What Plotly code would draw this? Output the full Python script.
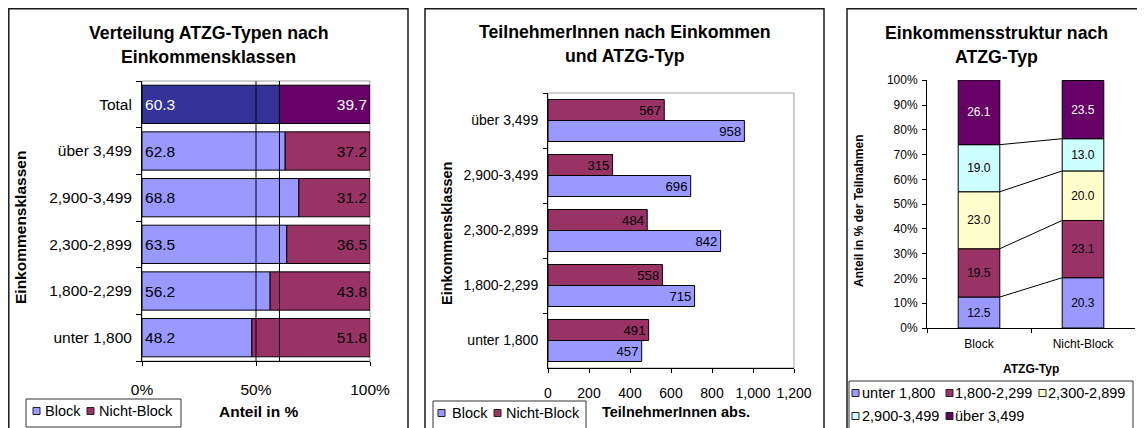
import plotly.graph_objects as go
import numpy as np

# ---------------- data ----------------
income_classes = ["unter 1,800", "1,800-2,299", "2,300-2,899", "2,900-3,499", "über 3,499"]
total_label = "Total"
atzg_types = ["Block", "Nicht-Block"]

# panel 1: share (%) per income class
share_block = [48.2, 56.2, 63.5, 68.8, 62.8]
share_nonblock = [51.8, 43.8, 36.5, 31.2, 37.2]
total_block = 60.3
total_nonblock = 39.7
reference_line = 50  # 50% line

# panel 2: absolute counts
count_block = [457, 715, 842, 696, 958]
count_nonblock = [491, 558, 484, 315, 567]

# panel 3: income structure per ATZG type (%)
struct_block = [12.5, 19.5, 23.0, 19.0, 26.1]
struct_nonblock = [20.3, 23.1, 20.0, 13.0, 23.5]

# tick values
ticks_p1 = [0, 50, 100]
ticks_p2 = [0, 200, 400, 600, 800, 1000, 1200]
ticks_p3 = [0, 10, 20, 30, 40, 50, 60, 70, 80, 90, 100]

# ---------------- styles ----------------
W, H = 1145, 428
PAGE_OFFSET = 8  # the page body margin shifts the figure by this many px
FONT = "Liberation Sans, Arial, sans-serif"
C_BLOCK = "#9999FF"
C_NB = "#993366"
C_TOT_BLOCK = "#333399"
C_TOT_NB = "#660066"
STRUCT_COLORS = ["#9999FF", "#993366", "#FFFFCC", "#CCFFFF", "#660066"]
STRUCT_TEXT = ["#000000", "#000000", "#000000", "#000000", "#FFFFFF"]
GRAY = "#A0A0A0"
TITLE_SIZE = 17.7


def px(x):
    return (x - PAGE_OFFSET) / W


def py(y):
    return 1 - (y - PAGE_OFFSET) / H


fig = go.Figure()

# ---------------- panel 1 ----------------
cat1 = income_classes + [total_label]
bw1 = 0.82
fig.add_trace(go.Bar(
    y=income_classes, x=share_block, base=[0] * len(share_block), orientation="h",
    width=bw1, marker=dict(color=C_BLOCK, line=dict(color="black", width=1)),
    text=[f"{v:.1f}" for v in share_block], textposition="inside", insidetextanchor="start",
    textfont=dict(family=FONT, size=15.5, color="black"), textangle=0,
    xaxis="x", yaxis="y", showlegend=False, name="Block"))
fig.add_trace(go.Bar(
    y=[total_label], x=[total_block], base=[0], orientation="h",
    width=bw1, marker=dict(color=C_TOT_BLOCK, line=dict(color="black", width=1)),
    text=[f"{total_block:.1f}"], textposition="inside", insidetextanchor="start",
    textfont=dict(family=FONT, size=15.5, color="white"), textangle=0,
    xaxis="x", yaxis="y", showlegend=False, name="Block"))
fig.add_trace(go.Bar(
    y=income_classes, x=share_nonblock, base=share_block, orientation="h",
    width=bw1, marker=dict(color=C_NB, line=dict(color="black", width=1)),
    text=[f"{v:.1f}" for v in share_nonblock], textposition="inside", insidetextanchor="end",
    textfont=dict(family=FONT, size=15.5, color="black"), textangle=0,
    xaxis="x", yaxis="y", showlegend=False, name="Nicht-Block"))
fig.add_trace(go.Bar(
    y=[total_label], x=[total_nonblock], base=[total_block], orientation="h",
    width=bw1, marker=dict(color=C_TOT_NB, line=dict(color="black", width=1)),
    text=[f"{total_nonblock:.1f}"], textposition="inside", insidetextanchor="end",
    textfont=dict(family=FONT, size=15.5, color="white"), textangle=0,
    xaxis="x", yaxis="y", showlegend=False, name="Nicht-Block"))

# ---------------- panel 2 ----------------
bw2 = 0.382
fig.add_trace(go.Bar(
    y=income_classes, x=count_block, orientation="h", width=bw2, offset=-bw2,
    marker=dict(color=C_BLOCK, line=dict(color="black", width=1)),
    text=[str(v) for v in count_block], textposition="inside", insidetextanchor="end",
    textfont=dict(family=FONT, size=14, color="black"), textangle=0,
    xaxis="x2", yaxis="y2", showlegend=False, name="Block"))
fig.add_trace(go.Bar(
    y=income_classes, x=count_nonblock, orientation="h", width=bw2, offset=0,
    marker=dict(color=C_NB, line=dict(color="black", width=1)),
    text=[str(v) for v in count_nonblock], textposition="inside", insidetextanchor="end",
    textfont=dict(family=FONT, size=14, color="black"), textangle=0,
    xaxis="x2", yaxis="y2", showlegend=False, name="Nicht-Block"))

# ---------------- panel 3 ----------------
bw3 = 0.4
cum_block = np.cumsum([0] + struct_block)
cum_nb = np.cumsum([0] + struct_nonblock)
ymax3 = max(100.0, float(cum_block[-1]), float(cum_nb[-1]))
for i, cls in enumerate(income_classes):
    vals = [struct_block[i], struct_nonblock[i]]
    fig.add_trace(go.Bar(
        x=atzg_types, y=vals, base=[cum_block[i], cum_nb[i]], width=bw3,
        marker=dict(color=STRUCT_COLORS[i], line=dict(color="black", width=1)),
        text=[f"{v:.1f}" for v in vals], textposition="inside", insidetextanchor="middle",
        textfont=dict(family=FONT, size=12, color=STRUCT_TEXT[i]), textangle=0,
        xaxis="x3", yaxis="y3", showlegend=False, name=cls, cliponaxis=False))

shapes = []
annotations = []

# panel frames
for (x0, y0, x1) in [(8.8, 8.8, 408), (425, 8.8, 824), (847, 8.8, 1160)]:
    shapes.append(dict(type="rect", xref="paper", yref="paper",
                       x0=px(x0), x1=px(x1), y0=py(440), y1=py(y0),
                       line=dict(color="#1a1a1a", width=1.5), layer="below"))

# plot-area gray frames (panels 1 and 2)
for xr, yr in [("x", "y"), ("x2", "y2")]:
    shapes.append(dict(type="rect", xref=f"{xr} domain", yref=f"{yr} domain",
                       x0=0, x1=1, y0=0, y1=1, line=dict(color=GRAY, width=1), layer="below"))

# vertical reference lines in panel 1 (50% and total share)
for v in [reference_line, total_block]:
    shapes.append(dict(type="line", xref="x", yref="y domain", x0=v, x1=v, y0=0, y1=1,
                       line=dict(color="black", width=1), layer="above"))

# series lines in panel 3
for i in range(1, len(income_classes)):
    shapes.append(dict(type="line", xref="x3", yref="y3",
                       x0=0 + bw3 / 2, x1=1 - bw3 / 2, y0=cum_block[i], y1=cum_nb[i],
                       line=dict(color="black", width=1), layer="above"))


def text(x, y, s, size, bold=False, angle=0, xanchor="center", color="black"):
    annotations.append(dict(
        xref="paper", yref="paper", x=px(x), y=py(y), text=f"<b>{s}</b>" if bold else s,
        showarrow=False, textangle=angle, xanchor=xanchor, yanchor="middle",
        font=dict(family=FONT, size=size, color=color)))


# titles
text(208, 33, "Verteilung ATZG-Typen nach", TITLE_SIZE, True)
text(208, 57, "Einkommensklassen", TITLE_SIZE, True)
text(625, 32, "TeilnehmerInnen nach Einkommen", TITLE_SIZE, True)
text(625, 56, "und ATZG-Typ", TITLE_SIZE, True)
text(996, 33, "Einkommensstruktur nach", TITLE_SIZE, True)
text(996, 57, "ATZG-Typ", TITLE_SIZE, True)

# axis titles
text(21, 228, "Einkommensklassen", 15.5, True, angle=-90)
text(258, 411, "Anteil in %", 15.5, True)
text(447, 234, "Einkommensklassen", 14.5, True, angle=-90)
text(676, 412, "TeilnehmerInnen abs.", 14.5, True)
text(859, 211, "Anteil in % der Teilnahmen", 12, True, angle=-90)
text(1031, 369, "ATZG-Typ", 12, True)


# manual legends
def legend_box(x0, y0, x1, y1):
    shapes.append(dict(type="rect", xref="paper", yref="paper",
                       x0=px(x0), x1=px(x1), y0=py(y1), y1=py(y0),
                       line=dict(color="#333333", width=1), fillcolor="white", layer="above"))


def legend_item(sx, ty, tx, name, color, size):
    shapes.append(dict(type="rect", xref="paper", yref="paper",
                       x0=px(sx), x1=px(sx + 7), y0=py(ty + 3.5), y1=py(ty - 3.5),
                       line=dict(color="#222222", width=1), fillcolor=color, layer="above"))
    text(tx, ty, name, size, xanchor="left")


legend_box(26, 399, 181, 427)
legend_item(33, 411, 43, "Block", C_BLOCK, 14.5)
legend_item(87, 411, 97, "Nicht-Block", C_NB, 14.5)

legend_box(433, 401, 586, 432)
legend_item(438, 413, 450, "Block", C_BLOCK, 14.5)
legend_item(494, 413, 504, "Nicht-Block", C_NB, 14.5)

legend_box(849, 381, 1133, 432)
leg3_pos = [(852, 393, 860), (946, 393, 953), (1039, 393, 1046), (852, 416, 860), (946, 416, 953)]
for (sx, ty, tx), name, col in zip(leg3_pos, income_classes, STRUCT_COLORS):
    legend_item(sx, ty, tx, name, col, 14.5)

axis_common = dict(showline=True, linecolor="black", linewidth=1, ticks="outside",
                   tickcolor="black", tickwidth=1, showgrid=False, zeroline=False,
                   automargin=False)

fig.update_layout(
    template="none",
    width=W, height=H, autosize=False,
    margin=dict(l=0, r=0, t=0, b=0, pad=0, autoexpand=False),
    paper_bgcolor="white", plot_bgcolor="white",
    barmode="overlay", showlegend=False,
    font=dict(family=FONT, color="black"),
    xaxis=dict(domain=[px(142), px(370)], anchor="y", range=[0, 100],
               tickmode="array", tickvals=ticks_p1, ticktext=[f"{v}%" for v in ticks_p1],
               ticklen=4, ticklabelstandoff=10,
               tickfont=dict(size=15.5), **axis_common),
    yaxis=dict(domain=[py(361), py(81)], anchor="x", type="category",
               categoryorder="array", categoryarray=cat1, range=[-0.5, len(cat1) - 0.5],
               tickson="boundaries", ticklen=5, ticklabelstandoff=6,
               tickfont=dict(size=15.5), **axis_common),
    xaxis2=dict(domain=[px(548), px(794)], anchor="y2", range=[0, 1200],
                tickmode="array", tickvals=ticks_p2, ticktext=[f"{v:,}" for v in ticks_p2],
                ticklen=4, ticklabelstandoff=8, tickfont=dict(size=14), **axis_common),
    yaxis2=dict(domain=[py(368), py(93)], anchor="x2", type="category",
                categoryorder="array", categoryarray=income_classes,
                range=[-0.5, len(income_classes) - 0.5],
                tickson="boundaries", ticklen=4, ticklabelstandoff=6,
                tickfont=dict(size=14), **axis_common),
    xaxis3=dict(domain=[px(927), px(1135)], anchor="y3", type="category",
                categoryorder="array", categoryarray=atzg_types, range=[-0.5, 1.5],
                tickson="boundaries", ticklen=4, ticklabelstandoff=5,
                tickfont=dict(size=12), **axis_common),
    yaxis3=dict(domain=[py(328), py(80)], anchor="x3", range=[0, ymax3],
                tickmode="array", tickvals=ticks_p3, ticktext=[f"{v}%" for v in ticks_p3],
                ticklen=4, ticklabelstandoff=2, tickfont=dict(size=12), **axis_common),
    shapes=shapes, annotations=annotations,
)

fig.write_html("out.html")
